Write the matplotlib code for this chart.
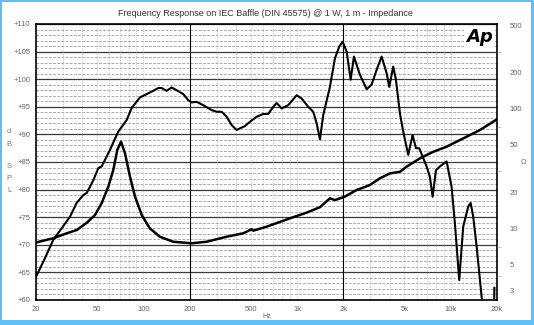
import matplotlib
matplotlib.use('Agg')
import matplotlib.pyplot as plt
from matplotlib.patches import Rectangle

# SPL curve (Hz, dB SPL)
spl_freq = [20, 22.9, 25.9, 29.4, 33.3, 36.8, 40.6, 42.8, 47.2, 50.9, 53.5, 60.6,
            68.6, 77.8, 83.9, 95, 105, 116, 125, 131.5, 141.7, 152.7, 164.6, 181.7,
            195.8, 206, 222, 245, 278, 300, 323, 348, 375, 404, 425, 458, 494, 546,
            602, 649, 700, 736, 794, 876, 994, 1071, 1182, 1274, 1341, 1409, 1480,
            1636, 1764, 1881, 1979, 2102, 2232, 2344, 2564, 2836, 3056, 3294, 3550,
            3826, 3978, 4224, 4398, 4670, 4906, 5290, 5648, 5936, 6234, 6622, 6966,
            7318, 7622, 8012, 8504, 9400, 10130, 10644, 11354, 12054, 12992, 13468,
            14006, 14738, 15880, 16440, 18500, 18900, 19230]
spl_db = [64.2, 67.6, 70.9, 73.0, 75.1, 77.6, 79.0, 79.4, 81.7, 83.9, 84.2, 87.2,
          90.5, 92.6, 94.8, 96.7, 97.3, 97.9, 98.4, 98.4, 97.9, 98.5, 98.0, 97.3,
          96.2, 95.8, 95.9, 95.3, 94.4, 94.1, 94.1, 93.2, 91.7, 90.8, 91.1, 91.5, 92.3,
          93.2, 93.7, 93.7, 95.0, 95.7, 94.7, 95.3, 97.1, 96.5, 95.0, 94.1, 92.0, 89.1,
          93.5, 98.6, 103.8, 105.9, 106.8, 105.0, 99.9, 104.1, 100.8, 98.2, 99.0,
          101.7, 104.1, 101.1, 98.6, 102.3, 99.9, 93.8, 90.5, 86.3, 89.9, 87.5, 87.5,
          85.7, 84.2, 82.3, 78.7, 83.5, 84.2, 85.1, 80.5, 73.9, 63.6, 73.3, 76.9, 77.6,
          75.1, 69.7, 60.6, 57.6, 50, 50, 62.2]

# impedance curve (Hz, ohm)
imp_freq = [20, 25.9, 31.7, 36.8, 42.8, 48.4, 53.5, 59.1, 63.7, 67.6, 71.5, 75.9,
            81.8, 88.2, 97.5, 110, 128, 156, 206, 258, 348, 446, 506, 519, 634, 899,
            1154, 1409, 1636, 1764, 2048, 2442, 2978, 3460, 4020, 4670, 5164, 6302,
            7692, 9400, 12684, 15480, 20000]
imp_ohm = [7.59, 8.23, 9.06, 9.65, 11.1, 12.9, 16.2, 22.3, 30.8, 45.2, 53.1, 42.4,
           27.0, 18.4, 12.9, 9.98, 8.48, 7.70, 7.47, 7.70, 8.48, 9.06, 9.79, 9.53,
           10.3, 12.1, 13.5, 15.0, 17.8, 17.2, 18.4, 20.9, 23.0, 26.2, 28.8, 29.7,
           32.8, 38.5, 43.7, 48.2, 58.5, 66.5, 81.8]

x_ticks = [20, 50, 100, 200, 500, 1000, 2000, 5000, 10000, 20000]
x_labels = ['20', '50', '100', '200', '500', '1k', '2k', '5k', '10k', '20k']
db_ticks = list(range(60, 111, 5))
ohm_ticks = [3, 5, 10, 20, 50, 100, 200, 500]

W, H = 534, 325
fig = plt.figure(figsize=(W / 100, H / 100), dpi=100)
fig.patch.set_facecolor('white')
ax = fig.add_axes([36 / W, 1 - 300 / H, 461 / W, 276 / H])
ax.set_xscale('log')
ax.set_xlim(20, 20000)
ax.set_ylim(60, 110)

# grid
for v in range(60, 111):
    if v % 5 == 0:
        ax.axhline(v, color='#3a3a3a', lw=0.9, zorder=1)
    else:
        ax.axhline(v, color='#8a8a8a', lw=0.5, ls=(0, (4, 2)), zorder=1)
for dec in [10, 100, 1000, 10000]:
    for m in range(1, 10):
        f = dec * m
        if f <= 20 or f >= 20000:
            continue
        if f in (200, 2000):
            ax.axvline(f, color='black', lw=0.8, zorder=1)
        else:
            ax.axvline(f, color='#9a9a9a', lw=0.5, ls=(0, (1, 2)), zorder=1)

ax.plot(spl_freq, spl_db, color='black', lw=1.5, zorder=3)

ax.set_xticks(x_ticks)
ax.set_xticklabels(x_labels)
ax.xaxis.set_minor_locator(matplotlib.ticker.NullLocator())
ax.set_yticks(db_ticks)
ax.set_yticklabels(['+%d' % v for v in db_ticks])
ax.tick_params(axis='both', length=0, labelsize=5.5, labelcolor='#666666')
ax.tick_params(axis='y', pad=4)
ax.tick_params(axis='x', pad=4)
for lab in ax.get_xticklabels() + ax.get_yticklabels():
    lab.set_family('Liberation Sans')
for s in ax.spines.values():
    s.set_linewidth(1.2)
    s.set_color('black')

ax2 = ax.twinx()
ax2.set_yscale('log')
ax2.set_ylim(2.5, 515)
ax2.plot(imp_freq, imp_ohm, color='black', lw=1.8, zorder=3)
ax2.set_yticks(ohm_ticks)
ax2.set_yticklabels([str(v) for v in ohm_ticks])
ax2.yaxis.set_minor_locator(matplotlib.ticker.FixedLocator([4, 7, 30, 70, 300]))
ax2.yaxis.set_minor_formatter(matplotlib.ticker.NullFormatter())
ax2.tick_params(axis='y', which='major', length=0, pad=9, labelsize=5.5, labelcolor='#666666')
ax2.tick_params(axis='y', which='minor', length=3, width=0.5, color='#aaaaaa')
for lab in ax2.get_yticklabels():
    lab.set_family('Liberation Sans')
for s in ax2.spines.values():
    s.set_visible(False)

ax2.text(0.992, 0.985, 'Ap', transform=ax2.transAxes, ha='right', va='top',
         fontsize=13, fontweight='bold', fontstyle='italic', family='DejaVu Sans',
         bbox=dict(facecolor='white', edgecolor='none', pad=1.5), zorder=6)

fig.text(265 / W, 1 - 13 / H,
         'Frequency Response on IEC Baffle (DIN 45575) @ 1 W, 1 m - Impedance',
         ha='center', va='center', fontsize=6.5, color='#333333', family='Liberation Sans')
fig.text(267 / W, 1 - 316 / H, 'Hz', ha='center', va='center', fontsize=5,
         color='#666666', family='Liberation Sans')
for letter, yy in zip(['d', 'B', 'S', 'P', 'L'], [132, 144, 166, 179, 191]):
    fig.text(9 / W, 1 - yy / H, letter, ha='center', va='center', fontsize=5.5,
             color='#777777', family='Liberation Sans')
fig.text(524 / W, 1 - 162 / H, '\u03a9', ha='center', va='center', fontsize=5.5,
         color='#777777', family='Liberation Sans')

# light blue frame around the picture
blue = '#5fc1f3'
for rect in [(0, 0, 2 / W, 1), (531 / W, 0, 3 / W, 1), (0, 0, 1, 5 / H), (0, 1 - 1.5 / H, 1, 1.5 / H)]:
    fig.patches.append(Rectangle(rect[:2], rect[2], rect[3], transform=fig.transFigure,
                                 facecolor=blue, edgecolor='none', zorder=10))

fig.savefig('out.png', dpi=100)
